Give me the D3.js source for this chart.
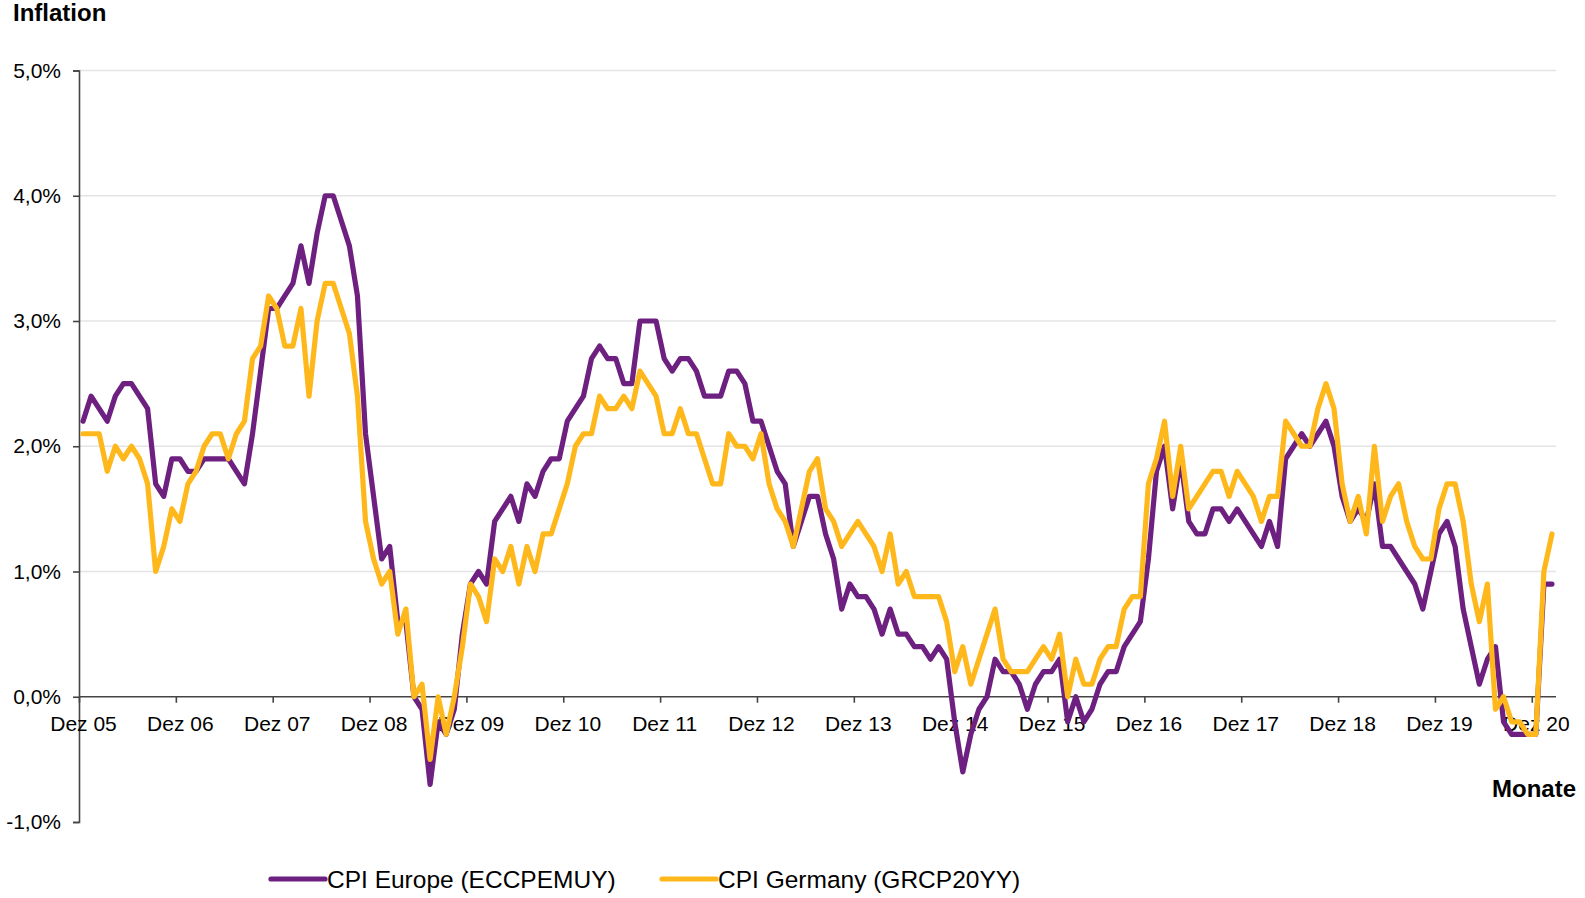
<!DOCTYPE html>
<html>
<head>
<meta charset="utf-8">
<script src="https://cdn.jsdelivr.net/npm/d3@7"></script>
<style>
  body { margin: 0; background: #fff; }
  text { font-family: "Liberation Sans", Arial, sans-serif; fill: #000; }
</style>
</head>
<body>
<script>
// monthly yoy inflation, Dez 05 .. Feb 21
var europe = [
  2.2,
  2.4, 2.3, 2.2, 2.4, 2.5, 2.5, 2.4, 2.3, 1.7, 1.6, 1.9, 1.9,
  1.8, 1.8, 1.9, 1.9, 1.9, 1.9, 1.8, 1.7, 2.1, 2.6, 3.1, 3.1,
  3.2, 3.3, 3.6, 3.3, 3.7, 4.0, 4.0, 3.8, 3.6, 3.2, 2.1, 1.6,
  1.1, 1.2, 0.6, 0.6, 0.0, -0.1, -0.7, -0.2, -0.3, -0.1, 0.5, 0.9,
  1.0, 0.9, 1.4, 1.5, 1.6, 1.4, 1.7, 1.6, 1.8, 1.9, 1.9, 2.2,
  2.3, 2.4, 2.7, 2.8, 2.7, 2.7, 2.5, 2.5, 3.0, 3.0, 3.0, 2.7,
  2.6, 2.7, 2.7, 2.6, 2.4, 2.4, 2.4, 2.6, 2.6, 2.5, 2.2, 2.2,
  2.0, 1.8, 1.7, 1.2, 1.4, 1.6, 1.6, 1.3, 1.1, 0.7, 0.9, 0.8,
  0.8, 0.7, 0.5, 0.7, 0.5, 0.5, 0.4, 0.4, 0.3, 0.4, 0.3, -0.2,
  -0.6, -0.3, -0.1, 0.0, 0.3, 0.2, 0.2, 0.1, -0.1, 0.1, 0.2, 0.2,
  0.3, -0.2, 0.0, -0.2, -0.1, 0.1, 0.2, 0.2, 0.4, 0.5, 0.6, 1.1,
  1.8, 2.0, 1.5, 1.9, 1.4, 1.3, 1.3, 1.5, 1.5, 1.4, 1.5, 1.4,
  1.3, 1.2, 1.4, 1.2, 1.9, 2.0, 2.1, 2.0, 2.1, 2.2, 2.0, 1.6,
  1.4, 1.5, 1.4, 1.7, 1.2, 1.2, 1.1, 1.0, 0.9, 0.7, 1.0, 1.3,
  1.4, 1.2, 0.7, 0.4, 0.1, 0.3, 0.4, -0.2, -0.3, -0.3, -0.3, -0.3,
  0.9, 0.9
];

var germany = [
  2.1,
  2.1, 2.1, 1.8, 2.0, 1.9, 2.0, 1.9, 1.7, 1.0, 1.2, 1.5, 1.4,
  1.7, 1.8, 2.0, 2.1, 2.1, 1.9, 2.1, 2.2, 2.7, 2.8, 3.2, 3.1,
  2.8, 2.8, 3.1, 2.4, 3.0, 3.3, 3.3, 3.1, 2.9, 2.4, 1.4, 1.1,
  0.9, 1.0, 0.5, 0.7, 0.0, 0.1, -0.5, 0.0, -0.3, 0.0, 0.4, 0.9,
  0.8, 0.6, 1.1, 1.0, 1.2, 0.9, 1.2, 1.0, 1.3, 1.3, 1.5, 1.7,
  2.0, 2.1, 2.1, 2.4, 2.3, 2.3, 2.4, 2.3, 2.6, 2.5, 2.4, 2.1,
  2.1, 2.3, 2.1, 2.1, 1.9, 1.7, 1.7, 2.1, 2.0, 2.0, 1.9, 2.1,
  1.7, 1.5, 1.4, 1.2, 1.5, 1.8, 1.9, 1.5, 1.4, 1.2, 1.3, 1.4,
  1.3, 1.2, 1.0, 1.3, 0.9, 1.0, 0.8, 0.8, 0.8, 0.8, 0.6, 0.2,
  0.4, 0.1, 0.3, 0.5, 0.7, 0.3, 0.2, 0.2, 0.2, 0.3, 0.4, 0.3,
  0.5, 0.0, 0.3, 0.1, 0.1, 0.3, 0.4, 0.4, 0.7, 0.8, 0.8, 1.7,
  1.9, 2.2, 1.6, 2.0, 1.5, 1.6, 1.7, 1.8, 1.8, 1.6, 1.8, 1.7,
  1.6, 1.4, 1.6, 1.6, 2.2, 2.1, 2.0, 2.0, 2.3, 2.5, 2.3, 1.7,
  1.4, 1.6, 1.3, 2.0, 1.4, 1.6, 1.7, 1.4, 1.2, 1.1, 1.1, 1.5,
  1.7, 1.7, 1.4, 0.9, 0.6, 0.9, -0.1, 0.0, -0.2, -0.2, -0.3, -0.3,
  1.0, 1.3
];

var tickLabels = ["Dez 05", "Dez 06", "Dez 07", "Dez 08", "Dez 09", "Dez 10", "Dez 11", "Dez 12",
  "Dez 13", "Dez 14", "Dez 15", "Dez 16", "Dez 17", "Dez 18", "Dez 19", "Dez 20"];
var yTicks = [-1, 0, 1, 2, 3, 4, 5];
var seriesNames = ["CPI Europe (ECCPEMUY)", "CPI Germany (GRCP20YY)"];
var colors = ["#6d2080", "#ffb81c"];

var width = 1585, height = 898;
var plotLeft = 79, plotRight = 1556, plotTop = 70.5, plotBottom = 822;

var svg = d3.select("body").append("svg")
    .attr("width", width)
    .attr("height", height);

var x = d3.scaleBand().domain(d3.range(europe.length)).range([plotLeft, plotRight]);
var xb = d3.scaleLinear().domain([0, europe.length]).range([plotLeft, plotRight]);
var y = d3.scaleLinear().domain([-1, 5]).range([plotBottom, plotTop]);
var half = x.bandwidth() / 2;

var de = d3.formatLocale({decimal: ",", thousands: ".", grouping: [3], currency: ["", "€"], minus: "-"});
var fmt = de.format(".1f");

// grid
svg.append("g").selectAll("line")
    .data(yTicks.filter(function(d) { return d > 0; }))
    .enter().append("line")
    .attr("x1", plotLeft).attr("x2", plotRight)
    .attr("y1", function(d) { return y(d); })
    .attr("y2", function(d) { return y(d); })
    .attr("stroke", "#e4e4e4")
    .attr("stroke-width", 1.5);

// y axis
var yAxis = svg.append("g")
    .attr("transform", "translate(" + plotLeft + ",0)")
    .call(d3.axisLeft(y).tickValues(yTicks).tickSize(6).tickPadding(12)
      .tickFormat(function(d) { return fmt(d) + "%"; }));
yAxis.selectAll("text").style("font-size", "21px").attr("fill", "#000");
yAxis.selectAll("line, path").attr("stroke", "#444").attr("stroke-width", 1.6);

// x axis at zero
var xAxis = svg.append("g")
    .attr("transform", "translate(0," + y(0) + ")")
    .call(d3.axisBottom(xb).tickValues(d3.range(0, europe.length - 1, 12)).tickSize(6).tickPadding(13)
      .tickFormat(function(d, k) { return tickLabels[k]; }));
xAxis.select(".domain").attr("d", "M" + plotLeft + ",0H" + plotRight);
xAxis.selectAll("line, path").attr("stroke", "#444").attr("stroke-width", 1.6);
xAxis.selectAll("text").style("font-size", "21px").attr("fill", "#000").attr("x", half);

// lines
var line = d3.line()
    .x(function(d, i) { return x(i) + half; })
    .y(function(d) { return y(d); });

[europe, germany].forEach(function(s, k) {
  svg.append("path")
      .datum(s)
      .attr("fill", "none")
      .attr("stroke", colors[k])
      .attr("stroke-width", 5.2)
      .attr("stroke-linejoin", "round")
      .attr("stroke-linecap", "round")
      .attr("d", line);
});

// titles
svg.append("text").attr("x", 13).attr("y", 21)
    .style("font-size", "24px").style("font-weight", "bold").text("Inflation");
svg.append("text").attr("x", 1576).attr("y", 797).attr("text-anchor", "end")
    .style("font-size", "24px").style("font-weight", "bold").text("Monate");

// legend
var legendX = [271, 662];
seriesNames.forEach(function(name, k) {
  var g = svg.append("g").attr("transform", "translate(" + legendX[k] + ",879)");
  g.append("line").attr("x1", 0).attr("x2", 54)
      .attr("stroke", colors[k]).attr("stroke-width", 5.2).attr("stroke-linecap", "round");
  g.append("text").attr("x", 56).attr("dy", "0.36em")
      .style("font-size", "24.5px").text(name);
});
</script>
</body>
</html>
